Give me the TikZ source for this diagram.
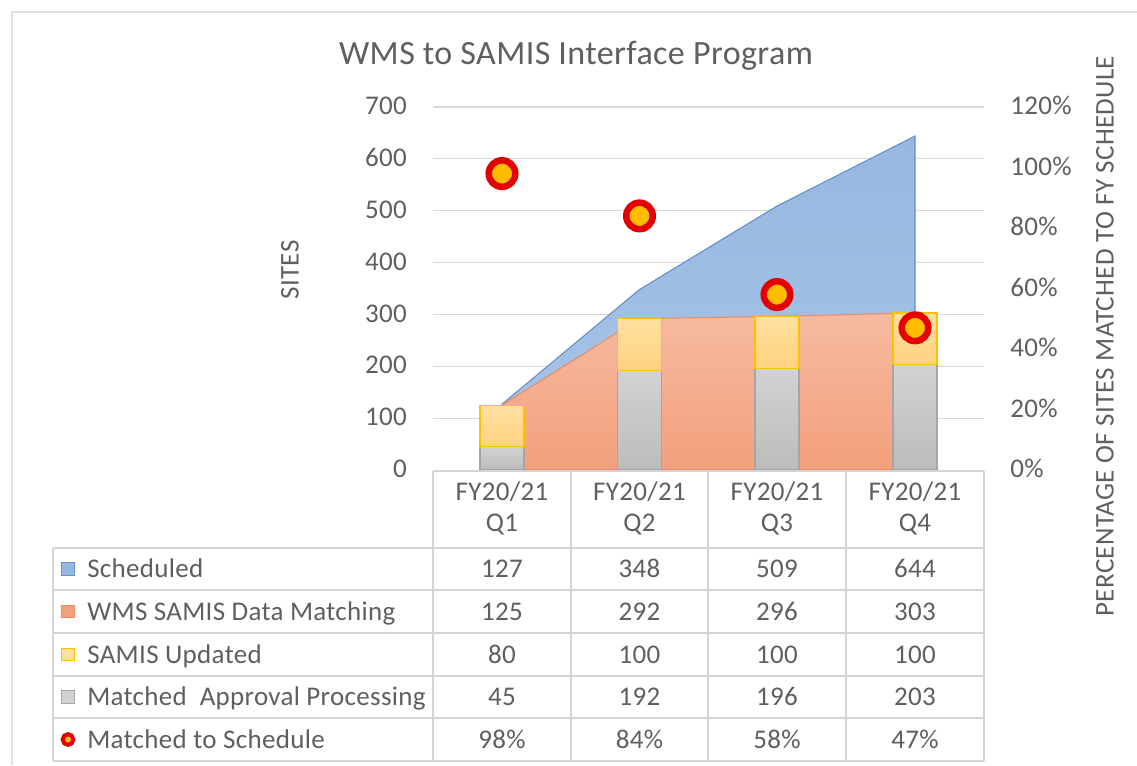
\documentclass[tikz,border=0pt]{standalone}
\usepackage{fontspec}
\setmainfont{Carlito}[LetterSpace=1.2]
\definecolor{txt}{RGB}{95,95,95}
\definecolor{gridc}{RGB}{217,217,217}
\definecolor{tabc}{RGB}{212,212,212}
\definecolor{framec}{RGB}{225,225,225}
\definecolor{blueT}{RGB}{150,183,224}
\definecolor{blueB}{RGB}{170,198,232}
\definecolor{blueL}{RGB}{100,142,200}
\definecolor{orT}{RGB}{246,186,160}
\definecolor{orB}{RGB}{243,160,124}
\definecolor{orL}{RGB}{235,140,100}
\definecolor{yeT}{RGB}{255,224,160}
\definecolor{yeB}{RGB}{255,210,128}
\definecolor{yeL}{RGB}{255,192,0}
\definecolor{grT}{RGB}{210,210,210}
\definecolor{grB}{RGB}{188,188,188}
\definecolor{grL}{RGB}{165,165,165}
\definecolor{dotring}{RGB}{228,0,0}
\definecolor{dotfill}{RGB}{255,188,0}
\begin{document}
\begin{tikzpicture}[x=0.75pt,y=-0.75pt,
  lbl/.style={text=txt,font=\fontsize{20.25}{24}\selectfont,inner sep=0pt,
              text height=13pt,text depth=0pt},
  titlelbl/.style={text=txt,font=\fontsize{25.5}{30}\selectfont,inner sep=0pt,
              text height=16.4pt,text depth=0pt},
  gridline/.style={gridc,line width=0.9pt},
  tabline/.style={tabc,line width=1pt},
  areablue/.style={draw=blueL,line width=0.8pt,top color=blueT,bottom color=blueB},
  areaorange/.style={draw=orL,line width=0.8pt,top color=orT,bottom color=orB},
  bargray/.style={draw=grL,line width=0.8pt,top color=grT,bottom color=grB},
  baryellow/.style={draw=yeL,line width=1pt,top color=yeT,bottom color=yeB},
  dotmarker/.style={circle,draw=dotring,fill=dotfill,line width=4.9pt,
                    minimum size=19.9pt,inner sep=0pt},
  keysq/.style={rectangle,minimum size=9.4pt,inner sep=0pt,line width=0.7pt}]

\useasboundingbox (0,0) rectangle (1137,765);
\fill[white] (0,0) rectangle (1137,765);
\draw[framec,line width=0.9pt] (12,765) -- (12,12) -- (1137,12);

% title and axis titles
\node[titlelbl] (title) at (576,54) {WMS to SAMIS Interface Program};
\node[lbl,rotate=90] (ytitle) at (290,270) {SITES};
\node[lbl,rotate=90] (ptitle) at (1105,336) {PERCENTAGE OF SITES MATCHED TO FY SCHEDULE};

% horizontal gridlines and axis labels (363 px span for 700 sites / 120 %)
\foreach \v in {100,200,...,700}
  \draw[gridline] (433,{470-\v*0.518571}) -- (984,{470-\v*0.518571});
\foreach \v in {0,100,...,700}
  \node[lbl,anchor=east] (yl\v) at (407,{469-\v*0.518571}) {\v};
\foreach \p in {0,20,...,120}
  \node[lbl,anchor=west] (pl\p) at (1010,{469-\p*3.025}) {\p\%};

% areas and stacked columns, in site units
\begin{scope}[shift={(0,470)},y=0.388929pt]
  \draw[areablue] (502,0) -- (502,127) -- (639.5,348) -- (777,509) -- (915,644) -- (915,0) -- cycle;
  \draw[areaorange] (502,0) -- (502,125) -- (639.5,292) -- (777,296) -- (915,303) -- (915,0) -- cycle;
  \foreach \xc/\g/\t in {502/45/125,639.5/192/292,777/196/296,915/203/303}{
    \draw[bargray] (\xc-22,0) rectangle (\xc+22,\g);
    \draw[baryellow] (\xc-22,\g) rectangle (\xc+22,\t);
  }
\end{scope}

% percentage markers
\begin{scope}[shift={(0,470)},y=2.26875pt]
  \foreach \xc/\p/\n in {502/98/1,639.5/84/2,777/58/3,915/47/4}
    \node[dotmarker] (dot\n) at (\xc,\p) {};
\end{scope}

% data table
\draw[tabline] (433,471) -- (984,471);
\foreach \y in {548,590,633,676,718,761}
  \draw[tabline] (53,\y) -- (984,\y);
\draw[tabline] (53,548) -- (53,761);
\foreach \x in {433,571,708,846,984}
  \draw[tabline] (\x,471) -- (\x,761);

\foreach \xc/\q/\n in {502/Q1/1,639.5/Q2/2,777/Q3/3,915/Q4/4}{
  \node[lbl] (fy\n) at (\xc,492) {FY20/21};
  \node[lbl] (q\n) at (\xc,523) {\q};
}

% legend keys and row labels
\node[keysq,fill=blueT,draw=blueL] (k1) at (68,569) {};
\node[keysq,fill=orB,draw=orL] (k2) at (68,611.5) {};
\node[keysq,fill=yeT,draw=yeL] (k3) at (68,654.5) {};
\node[keysq,fill=grT,draw=grL] (k4) at (68,697) {};
\node[circle,fill=dotfill,draw=dotring,line width=3pt,minimum size=8pt,inner sep=0pt] (k5) at (68,739.5) {};

\node[lbl,anchor=west] (r1) at (87,569) {Scheduled};
\node[lbl,anchor=west] (r2) at (87,611.5) {WMS SAMIS Data Matching};
\node[lbl,anchor=west] (r3) at (87,654.5) {SAMIS Updated};
\node[lbl,anchor=west] (r4) at (87,697) {Matched~ Approval Processing};
\node[lbl,anchor=west] (r5) at (87,739.5) {Matched to Schedule};

% table values
\foreach \xc/\a/\b/\c/\d/\e/\n in {502/127/125/80/45/98/1,639.5/348/292/100/192/84/2,777/509/296/100/196/58/3,915/644/303/100/203/47/4}{
  \node[lbl] (s\n) at (\xc,569) {\a};
  \node[lbl] (m\n) at (\xc,611.5) {\b};
  \node[lbl] (u\n) at (\xc,654.5) {\c};
  \node[lbl] (p\n) at (\xc,697) {\d};
  \node[lbl] (t\n) at (\xc,739.5) {\e\%};
}
\end{tikzpicture}
\end{document}
